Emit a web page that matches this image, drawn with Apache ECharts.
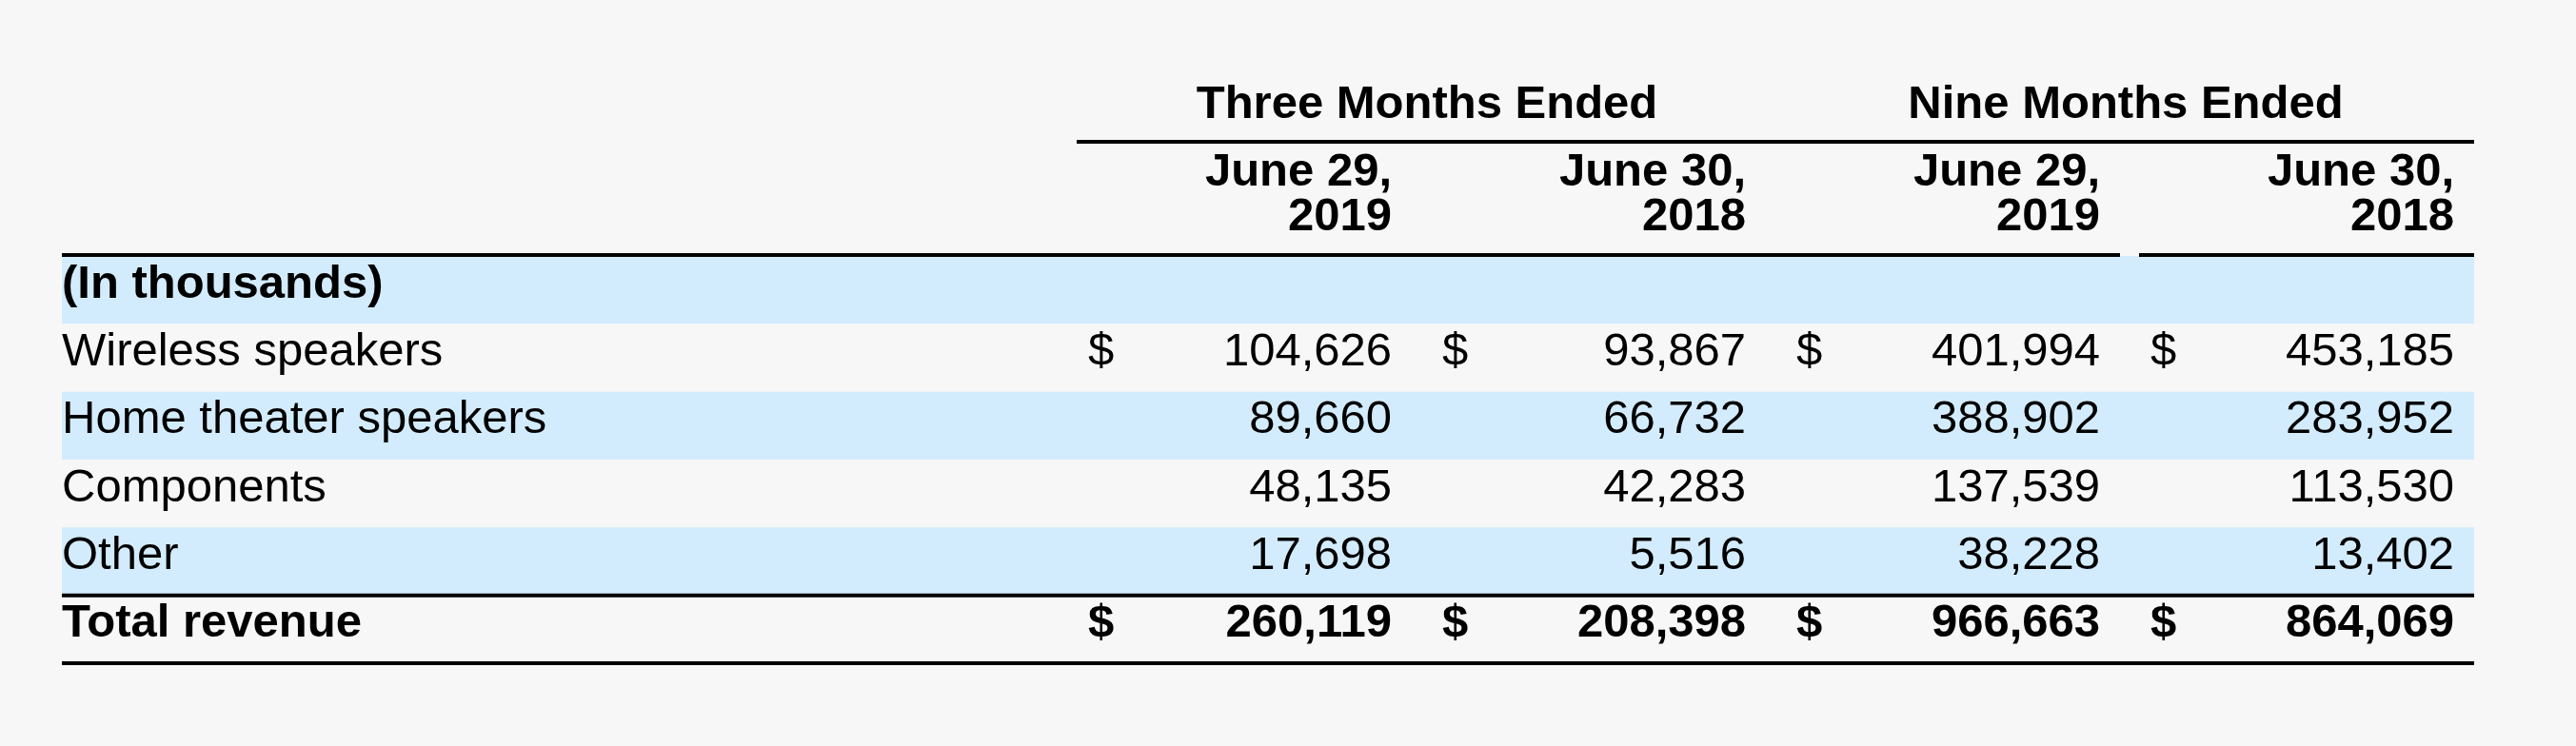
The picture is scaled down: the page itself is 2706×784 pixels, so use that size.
<!DOCTYPE html>
<html lang="en">
<head>
    <meta charset="UTF-8">
    <title>Revenue by product category</title>
    <script src="https://cdn.jsdelivr.net/npm/echarts@6/dist/echarts.min.js"></script>
    <style>
        html, body { margin: 0; padding: 0; background: #f7f7f7; }
        #main { width: 2706px; height: 784px; }
    </style>
</head>
<body>
<div id="main"></div>
<script type="text/javascript">
    // table contents (in thousands)
    var rowLabels = ['(In thousands)', 'Wireless speakers', 'Home theater speakers', 'Components', 'Other', 'Total revenue'];
    var boldRows = [0, 5];
    var dollarRows = [1, 5];
    var bandRows = [0, 2, 4];
    var periodGroups = ['Three Months Ended', 'Nine Months Ended'];
    var groupColumns = [[0, 1], [2, 3]];
    var columnDates = ['June 29,', 'June 30,', 'June 29,', 'June 30,'];
    var columnYears = ['2019', '2018', '2019', '2018'];

    var wirelessSpeakers = [104626, 93867, 401994, 453185];
    var homeTheaterSpeakers = [89660, 66732, 388902, 283952];
    var components = [48135, 42283, 137539, 113530];
    var other = [17698, 5516, 38228, 13402];
    var totalRevenue = [260119, 208398, 966663, 864069];

    var rowValues = [null, wirelessSpeakers, homeTheaterSpeakers, components, other, totalRevenue];

    // look & layout
    var FONT = '"Liberation Sans", Arial, sans-serif';
    var FS = 49;
    var BAND = '#d3ecfd';
    var INK = '#000';
    var LABEL_INDENT = 1066;   // label column sits left of the value grid
    var RIGHT_TRIM = 20;
    var DOLLAR_PAD = 12;
    var VALUE_PAD = 41;
    var TEXT_DY = 30;          // text middle from row top
    var RULE = 4;

    function txt(s, x, y, bold, align) {
        return {
            type: 'text',
            style: {
                text: s, x: x, y: y, fill: INK,
                fontSize: FS, fontFamily: FONT, fontWeight: bold ? 'bold' : 'normal',
                align: align, verticalAlign: 'middle'
            }
        };
    }
    function rule(x1, x2, yc) {
        return { type: 'rect', shape: { x: x1, y: yc - RULE / 2, width: x2 - x1, height: RULE }, style: { fill: INK } };
    }

    var rowData = rowLabels.map(function (l, i) { return [0, i]; });
    var cellData = [];
    for (var r = 1; r < rowValues.length; r++) {
        for (var c = 0; c < 4; c++) cellData.push([c, r, rowValues[r][c]]);
    }

    function renderRow(params, api) {
        var r = api.value(1);
        var cs = params.coordSys;
        var h = api.size([1, 1])[1];
        var top = api.coord([0, r])[1] - h / 2;
        var left = cs.x - LABEL_INDENT;
        var right = cs.x + cs.width - RIGHT_TRIM;
        var kids = [];
        if (bandRows.indexOf(r) >= 0) {
            kids.push({ type: 'rect', shape: { x: left, y: top, width: right - left, height: h }, style: { fill: BAND } });
        }
        kids.push(txt(rowLabels[r], left, top + TEXT_DY, boldRows.indexOf(r) >= 0, 'left'));
        if (r === rowLabels.length - 1) {
            kids.push(rule(left, right, top));
            kids.push(rule(left, right, top + h));
        }
        return { type: 'group', children: kids };
    }

    function renderCell(params, api) {
        var c = api.value(0), r = api.value(1), v = api.value(2);
        var sz = api.size([1, 1]);
        var p = api.coord([c, r]);
        var left = p[0] - sz[0] / 2;
        var top = p[1] - sz[1] / 2;
        var bold = boldRows.indexOf(r) >= 0;
        var kids = [txt(v.toLocaleString('en-US'), left + sz[0] - VALUE_PAD, top + TEXT_DY, bold, 'right')];
        if (dollarRows.indexOf(r) >= 0) kids.push(txt('$', left + DOLLAR_PAD, top + TEXT_DY, bold, 'left'));
        return { type: 'group', children: kids };
    }

    function renderHeader(params, api) {
        var cs = params.coordSys;
        var w = api.size([1, 1])[0];
        var left = cs.x - LABEL_INDENT;
        var right = cs.x + cs.width - RIGHT_TRIM;
        var colLeft = function (c) { return api.coord([c, 0])[0] - w / 2; };
        var kids = [];
        groupColumns.forEach(function (g, i) {
            var x1 = colLeft(g[0]);
            var x2 = Math.min(colLeft(g[1]) + w, right);
            kids.push(txt(periodGroups[i], (x1 + x2) / 2 - 4, cs.y - 159, true, 'center'));
        });
        kids.push(rule(colLeft(0), right, cs.y - 120));
        for (var c = 0; c < 4; c++) {
            var xr = colLeft(c) + w - VALUE_PAD;
            kids.push(txt(columnDates[c], xr, cs.y - 88, true, 'right'));
            kids.push(txt(columnYears[c], xr, cs.y - 41, true, 'right'));
        }
        // header underline, broken before the last column
        kids.push(rule(left, colLeft(2) + w - RIGHT_TRIM, cs.y - 1));
        kids.push(rule(colLeft(3), right, cs.y - 1));
        return { type: 'group', children: kids };
    }

    var myChart = echarts.init(document.getElementById('main'));
    myChart.setOption({
        backgroundColor: '#f7f7f7',
        animation: false,
        grid: { left: 1131, right: 87, top: 269, bottom: 87 },
        xAxis: { type: 'category', data: columnYears.map(function (y, i) { return columnDates[i] + ' ' + y; }), show: false },
        yAxis: { type: 'category', data: rowLabels, inverse: true, show: false },
        series: [
            { type: 'custom', name: 'rows', renderItem: renderRow, data: rowData, z: 1 },
            { type: 'custom', name: 'cells', renderItem: renderCell, data: cellData, z: 2 },
            { type: 'custom', name: 'header', renderItem: renderHeader, data: [[0, 0]], z: 3 }
        ]
    });
</script>
</body>
</html>
